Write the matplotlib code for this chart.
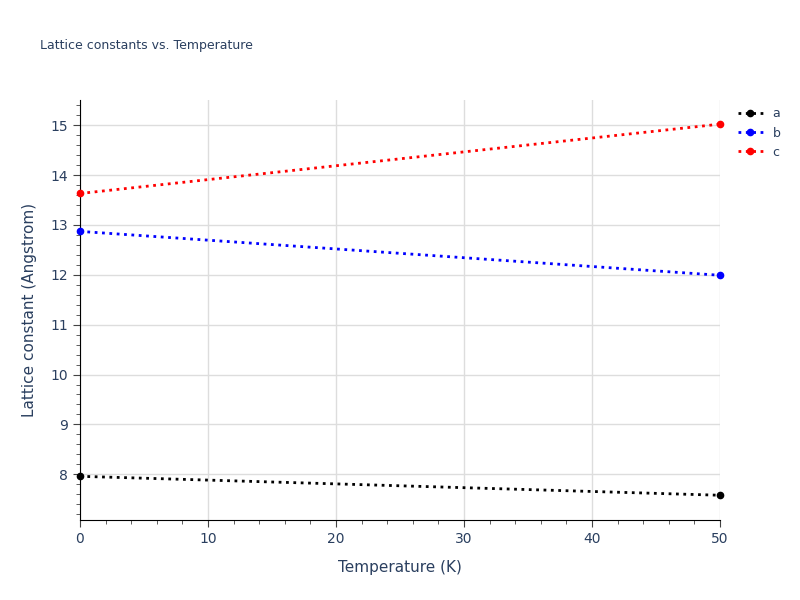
import matplotlib.pyplot as plt
from matplotlib.ticker import MultipleLocator

temps = [0, 50]
a_vals = [7.96, 7.58]
b_vals = [12.87, 11.99]
c_vals = [13.63, 15.02]

fig = plt.figure(figsize=(8, 6), dpi=100)
ax = fig.add_axes([0.1, 0.133, 0.8, 0.7])
txt = '#2a3f5f'
for y, name, col in [(a_vals, 'a', 'black'), (b_vals, 'b', 'blue'), (c_vals, 'c', 'red')]:
    ax.plot(temps, y, ':', color=col, marker='o', ms=4.5, lw=2, label=name, clip_on=False, zorder=3)

ax.set_xlim(0, 50)
ax.set_ylim(7.08, 15.5)
ax.xaxis.set_major_locator(MultipleLocator(10))
ax.xaxis.set_minor_locator(MultipleLocator(2))
ax.yaxis.set_major_locator(MultipleLocator(1))
ax.yaxis.set_minor_locator(MultipleLocator(0.2))
ax.grid(True, which='major', color='#dddddd', lw=1)
ax.set_axisbelow(True)
for s in ['top', 'right']:
    ax.spines[s].set_visible(False)
for s in ['left', 'bottom']:
    ax.spines[s].set_color('black')
ax.tick_params(which='major', length=5, color='#444444', labelcolor=txt, labelsize=10)
ax.tick_params(which='minor', length=3, color='#444444')
ax.set_xlabel('Temperature (K)', color=txt, fontsize=11, labelpad=10)
ax.set_ylabel('Lattice constant (Angstrom)', color=txt, fontsize=11, labelpad=10)
fig.text(0.05, 0.918, 'Lattice constants vs. Temperature', color=txt, fontsize=9)
leg = ax.legend(loc='upper left', bbox_to_anchor=(1.01, 1.01), frameon=False, fontsize=9, handlelength=2)
for t in leg.get_texts():
    t.set_color(txt)
fig.savefig('out.png')
